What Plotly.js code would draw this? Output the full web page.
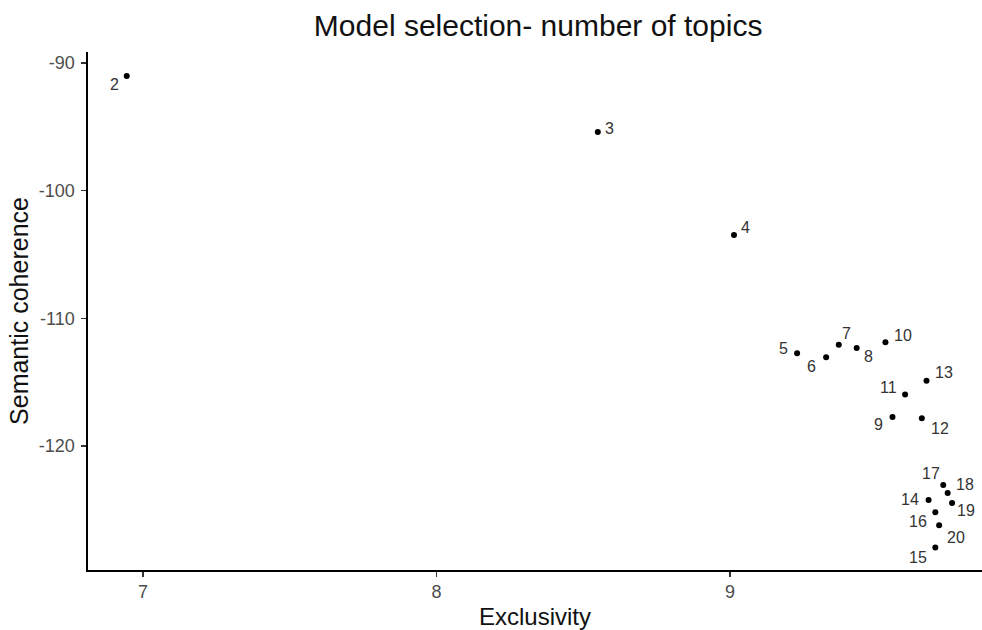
<!DOCTYPE html>
<html>
<head>
<meta charset="utf-8">
<script src="https://cdn.plot.ly/plotly-3.0.1.min.js"></script>
<style>html,body{margin:0;padding:0;background:#fff;}#chart{width:982px;height:630px;}</style>
</head>
<body>
<div id="chart"></div>
<script>
var topicsK = [2, 3, 4, 5, 6, 7, 8, 9, 10, 11, 12, 13, 14, 15, 16, 17, 18, 19, 20];
var exclusivity = [6.945, 8.550, 9.014, 9.229, 9.328, 9.371, 9.432, 9.554, 9.530, 9.597, 9.654, 9.670, 9.677, 9.700, 9.700, 9.727, 9.742, 9.757, 9.713];
var semcoh = [-91.02, -95.40, -103.47, -112.73, -113.05, -112.06, -112.32, -117.72, -111.87, -115.97, -117.82, -114.88, -124.22, -127.95, -125.18, -123.05, -123.67, -124.46, -126.20];

// label pixel offsets (style only): [dx, dy] with dy positive downward
var labelOffsets = {
  2: [-12, 8], 3: [12, -3], 4: [12, -7], 5: [-14, -5], 6: [-15, 9], 7: [8, -11],
  8: [12, 9], 9: [-14, 8], 10: [18, -7], 11: [-17, -7], 12: [18, 10], 13: [17, -8],
  14: [-19, 0], 15: [-17, 10], 16: [-17, 9], 17: [-12, -11], 18: [17, -8], 19: [14, 8], 20: [17, 12]
};

var FONT = 'Liberation Sans, Arial, sans-serif';

var annotations = topicsK.map(function (k, i) {
  var o = labelOffsets[k];
  return {
    x: exclusivity[i], y: semcoh[i], xref: 'x', yref: 'y',
    text: String(k), showarrow: false,
    xshift: o[0], yshift: -o[1],
    font: {family: FONT, size: 16, color: '#333'}
  };
});

var trace = {
  x: exclusivity, y: semcoh, mode: 'markers', type: 'scatter',
  marker: {color: '#000', size: 6},
  hoverinfo: 'skip'
};

var axisCommon = {
  showgrid: false, zeroline: false, showline: true, linecolor: '#000', linewidth: 1.6,
  ticks: 'outside', ticklen: 5, tickwidth: 1.4, tickcolor: '#333',
  tickfont: {family: FONT, size: 18, color: '#4d4d4d'},
  mirror: false, automargin: false
};

var layout = {
  width: 982, height: 630,
  margin: {l: 88, r: 0, t: 52, b: 60},
  paper_bgcolor: '#fff', plot_bgcolor: '#fff',
  showlegend: false,
  title: {text: 'Model selection- number of topics', x: 0.548, xanchor: 'center', y: 0.96, yanchor: 'middle',
          font: {family: FONT, size: 30, color: '#111'}},
  xaxis: Object.assign({}, axisCommon, {
    range: [6.813, 9.859], tickvals: [7, 8, 9], ticktext: ['7', '8', '9'],
    title: {text: 'Exclusivity', standoff: 8, font: {family: FONT, size: 24, color: '#111'}}
  }),
  yaxis: Object.assign({}, axisCommon, {
    range: [-129.71, -89.14], tickvals: [-120, -110, -100, -90], ticktext: ['-120', '-110', '-100', '-90'],
    ticklabelstandoff: 3,
    title: {text: 'Semantic coherence', standoff: 3, font: {family: FONT, size: 25, color: '#111'}}
  }),
  annotations: annotations
};

Plotly.newPlot('chart', [trace], layout, {displayModeBar: false, staticPlot: true});
</script>
</body>
</html>
